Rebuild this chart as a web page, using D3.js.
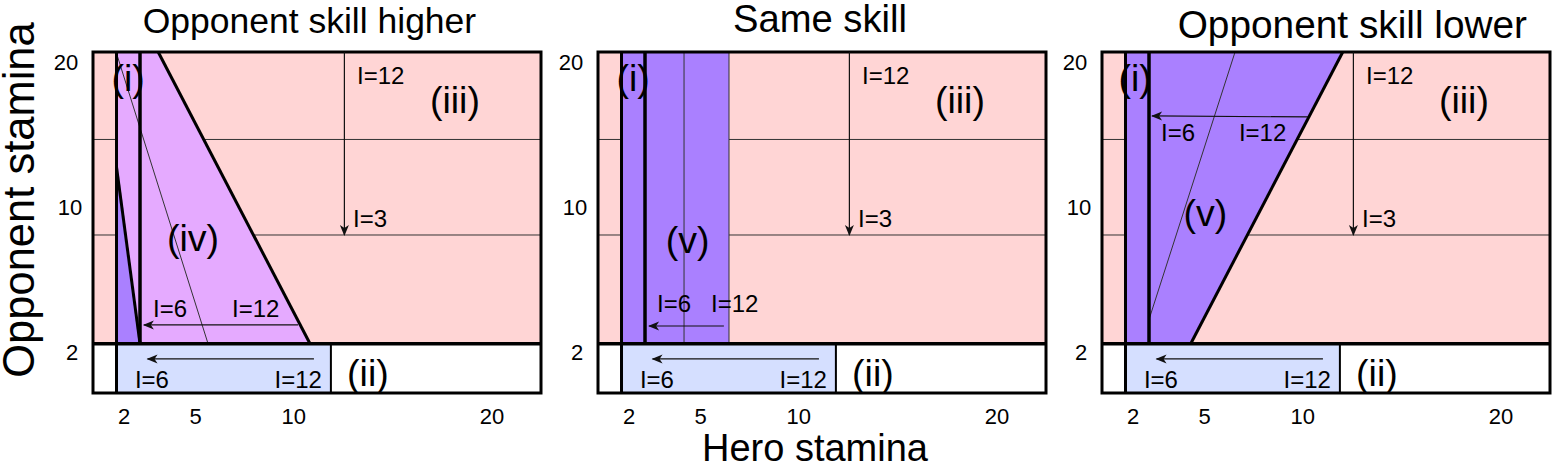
<!DOCTYPE html>
<html><head><meta charset="utf-8">
<script src="https://cdn.jsdelivr.net/npm/d3@7"></script>
<style>body{margin:0;background:#fff} svg{display:block}</style>
</head><body><svg id="c" width="1553" height="465"></svg>
<script>
// ---------- data (diagram units: x = hero stamina, y = opponent stamina) ----------
const panelTitles = ["Opponent skill higher", "Same skill", "Opponent skill lower"];
const titleX = [11.07, 11.34, 12.73];
const xTickLabels = ["2", "5", "10", "20"];
const xTickAt = [2, 5.5, 10.3, 20];
const yTickLabels = ["20", "10", "2"];
const yTickAt = [20, 10.1, 0.25];
const xDomain = [0.48, 22.4];
const yDomain = [-2.5, 20.7];
const ySplit = 0.85;            // boundary: opponent stamina <= 2 band below
const gridY = [14.75, 8.25];
const stripI = [1.63, 2.78];    // region (i)
const regionIIRight = 12.12;    // region (ii) right edge
const arrowIIIx = 12.78;        // vertical arrow I=12 -> I=3
const arrowIIIend = 8.25;
const arrowII = [[11.29, -0.18], [3.15, -0.18]];

// region (iv) / (v) shapes per panel
const lightRegion = [
  [[1.63, 20.7], [3.67, 20.7], [11.10, 0.85], [1.63, 0.85]],
  null,
  null
];
const purpleRegion = [
  [[1.63, 12.88], [1.63, 0.85], [2.78, 0.85]],
  [[1.63, 20.7], [6.89, 20.7], [6.89, 0.85], [1.63, 0.85]],
  [[1.63, 20.7], [12.26, 20.7], [4.82, 0.85], [1.63, 0.85]]
];
const thickEdges = [
  [[[3.67, 20.7], [11.10, 0.85]], [[1.63, 12.88], [2.78, 0.85]]],
  [],
  [[[12.26, 20.7], [4.82, 0.85]]]
];
const thinEdges = [
  [[[1.61, 20.7], [6.11, 0.85]]],
  [[[4.69, 20.7], [4.69, 0.85]], [[6.89, 20.7], [6.89, 0.85]]],
  [[[6.99, 20.7], [2.78, 2.5]]]
];
const innerArrows = [
  [[10.51, 2.13], [2.97, 2.13]],
  [[6.64, 2.06], [2.98, 2.06]],
  [[10.56, 16.28], [2.93, 16.35]]
];
const innerArrowLabels = [
  [["I=6", 3.42, 3.28], ["I=12", 7.28, 3.28]],
  [["I=6", 3.37, 3.56], ["I=12", 6.01, 3.56]],
  [["I=6", 3.37, 15.19], ["I=12", 7.18, 15.19]]
];
const regionLabels = [
  [["(i)", 2.2, 18.9], ["(iv)", 5.37, 8.05], ["(iii)", 18.19, 17.43], ["(ii)", 13.93, -1.14]],
  [["(i)", 2.2, 18.9], ["(v)", 4.86, 7.91], ["(iii)", 18.19, 17.43], ["(ii)", 13.93, -1.14]],
  [["(i)", 2.1, 18.9], ["(v)", 5.54, 9.75], ["(iii)", 18.19, 17.43], ["(ii)", 13.93, -1.14]]
];
const commonLabels = [
  ["I=12", 13.4, 19.07, "start"], ["I=3", 13.2, 9.34, "start"],
  ["I=6", 2.53, -1.61, "start"], ["I=12", 11.68, -1.61, "end"]
];

// ---------- layout ----------
const panelLeft = [93, 598, 1102];
const panelW = 448, frameTop = 52, frameBottom = 393;
const titleSize = [35.5, 38.2, 38.8];
const titleBaseline = [33, 32, 38];
const yTickOffset = [-27, -23, -21];
const colors = { pink: "#ffd5d5", lilac: "#e5aaff", purple: "#aa80ff", blue: "#d5dfff" };
const sans = "'Liberation Sans', Arial, sans-serif";

const svg = d3.select("#c");
const defs = svg.append("defs");
defs.append("marker").attr("id", "ah").attr("viewBox", "-11 -6 13 12")
  .attr("refX", 0).attr("refY", 0).attr("markerWidth", 13).attr("markerHeight", 12)
  .attr("markerUnits", "userSpaceOnUse").attr("orient", "auto")
  .append("path").attr("d", "M1,0 L-10,-4.5 L-7,0 L-10,4.5 Z").attr("fill", "#111");

const y = d3.scaleLinear().domain(yDomain).range([frameBottom, frameTop]);
const makeLine = (x) => d3.line().x(d => x(d[0])).y(d => y(d[1]));

panelLeft.forEach((L, p) => {
  const x = d3.scaleLinear().domain(xDomain).range([L, L + panelW]);
  const g = svg.append("g");
  const ln = makeLine(x);
  const x0 = xDomain[0], x1 = xDomain[1];

  // background band opponent stamina > 2
  g.append("rect").attr("x", x(x0)).attr("y", y(yDomain[1]))
    .attr("width", x(x1) - x(x0)).attr("height", y(ySplit) - y(yDomain[1]))
    .attr("fill", colors.pink);
  // horizontal grid lines
  gridY.forEach(v => g.append("path").attr("d", ln([[x0, v], [x1, v]]))
    .attr("stroke", "#333").attr("stroke-width", 1).attr("fill", "none"));
  // region (ii)
  g.append("rect").attr("x", x(stripI[0])).attr("y", y(ySplit))
    .attr("width", x(regionIIRight) - x(stripI[0])).attr("height", y(yDomain[0]) - y(ySplit))
    .attr("fill", colors.blue).attr("stroke", "#000").attr("stroke-width", 2);
  // region fills
  if (lightRegion[p]) g.append("path").attr("d", ln(lightRegion[p]) + "Z").attr("fill", colors.lilac);
  g.append("path").attr("d", ln(purpleRegion[p]) + "Z").attr("fill", colors.purple);
  // thin interior lines
  thinEdges[p].forEach(s => g.append("path").attr("d", ln(s))
    .attr("stroke", "#333").attr("stroke-width", 1).attr("fill", "none"));
  // strip (i) edges
  g.append("path").attr("d", ln([[stripI[0], yDomain[1]], [stripI[0], yDomain[0]]]))
    .attr("stroke", "#000").attr("stroke-width", 3);
  g.append("path").attr("d", ln([[stripI[1], yDomain[1]], [stripI[1], ySplit]]))
    .attr("stroke", "#000").attr("stroke-width", 3.5);
  thickEdges[p].forEach(s => g.append("path").attr("d", ln(s))
    .attr("stroke", "#000").attr("stroke-width", 3).attr("fill", "none"));
  // separator and frame
  g.append("path").attr("d", ln([[x0, ySplit], [x1, ySplit]]))
    .attr("stroke", "#000").attr("stroke-width", 3.5);
  g.append("rect").attr("x", x(x0)).attr("y", y(yDomain[1]))
    .attr("width", x(x1) - x(x0)).attr("height", y(yDomain[0]) - y(yDomain[1]))
    .attr("fill", "none").attr("stroke", "#000").attr("stroke-width", 3);

  // arrows
  const arrow = (pts) => g.append("path").attr("d", ln(pts))
    .attr("stroke", "#111").attr("stroke-width", 1.2).attr("fill", "none")
    .attr("marker-end", "url(#ah)");
  arrow([[arrowIIIx, yDomain[1]], [arrowIIIx, arrowIIIend]]);
  arrow(arrowII);
  arrow(innerArrows[p]);

  // labels
  const txt = (s, xv, yv, size, anchor) => g.append("text")
    .attr("x", x(xv)).attr("y", y(yv)).attr("dominant-baseline", "central")
    .attr("text-anchor", anchor).attr("font-family", sans).attr("font-size", size)
    .attr("fill", "#000").text(s);
  innerArrowLabels[p].forEach(d => txt(d[0], d[1], d[2], 24, "start"));
  commonLabels.forEach(d => txt(d[0], d[1], d[2], 24, d[3]));
  regionLabels[p].forEach(d => txt(d[0], d[1], d[2], 37.5, "middle"));

  // ticks
  xTickAt.forEach((v, i) => g.append("text").attr("x", x(v)).attr("y", 424)
    .attr("text-anchor", "middle").attr("font-family", sans).attr("font-size", 22)
    .text(xTickLabels[i]));
  yTickAt.forEach((v, i) => g.append("text").attr("x", L + yTickOffset[i]).attr("y", y(v))
    .attr("dominant-baseline", "central")
    .attr("text-anchor", "middle").attr("font-family", sans).attr("font-size", 22)
    .text(yTickLabels[i]));

  // title
  g.append("text").attr("x", x(titleX[p])).attr("y", titleBaseline[p])
    .attr("text-anchor", "middle").attr("font-family", sans).attr("font-size", titleSize[p])
    .text(panelTitles[p]);
});

// axis titles
svg.append("text").attr("x", 815).attr("y", 461).attr("text-anchor", "middle")
  .attr("font-family", sans).attr("font-size", 38).text("Hero stamina");
svg.append("text").attr("transform", "translate(34,200) rotate(-90)")
  .attr("text-anchor", "middle").attr("font-family", sans).attr("font-size", 43.5)
  .text("Opponent stamina");
</script></body></html>
